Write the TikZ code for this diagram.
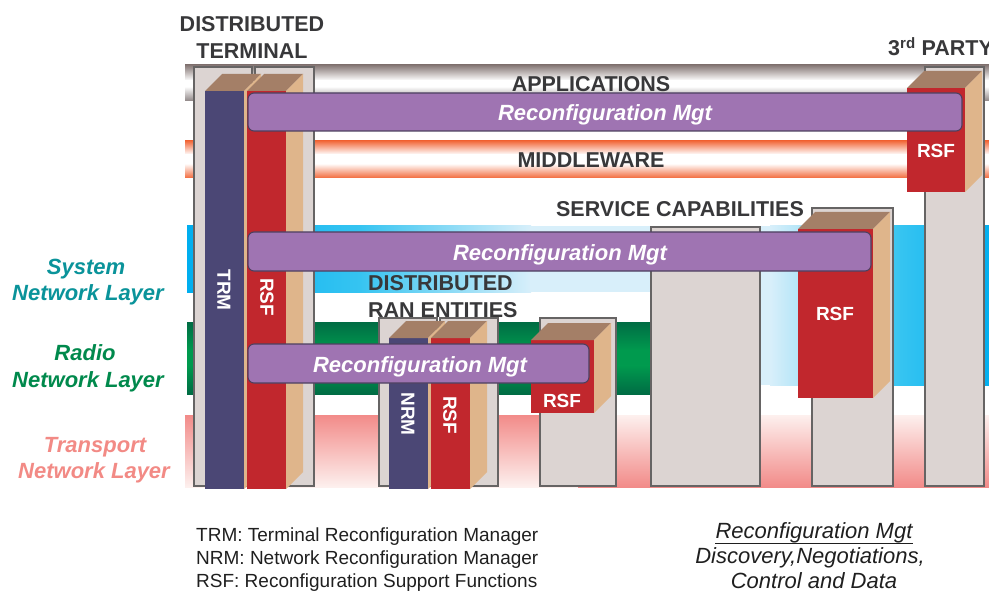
\documentclass[tikz,border=0pt]{standalone}
\usepackage{fontspec}
\setmainfont{Liberation Sans}
\usetikzlibrary{calc}

\definecolor{boxgray}{HTML}{DCD4D2}
\definecolor{boxline}{HTML}{666464}
\definecolor{trmnavy}{HTML}{4B4775}
\definecolor{rsfred}{HTML}{C1272D}
\definecolor{sidetan}{HTML}{DFB58B}
\definecolor{topbrown}{HTML}{A47F67}
\definecolor{mgtpurple}{HTML}{9F74B2}
\definecolor{mgtline}{HTML}{4D4060}
\definecolor{labeldark}{HTML}{38383A}
\definecolor{systeal}{HTML}{0A939A}
\definecolor{radiogreen}{HTML}{00894C}
\definecolor{transpink}{HTML}{F28A85}
\definecolor{appgray}{HTML}{857775}
\definecolor{appgraylow}{HTML}{8E8585}
\definecolor{mworange}{HTML}{F26A3C}
\definecolor{cyanfull}{HTML}{00AEEF}
\definecolor{cyanmid}{HTML}{36C4F1}
\definecolor{cyanpale}{HTML}{D8EFFA}
\definecolor{greendark}{HTML}{006C44}
\definecolor{greenmid}{HTML}{009A4E}
\definecolor{pinkstrong}{HTML}{F28B89}
\definecolor{pinkpale}{HTML}{FDF0EE}

% 3-D block: front face, brown top, tan side (depth 17)
\newcommand{\blockprism}[5]{%
  \fill[#5] (#1,#2) rectangle (#3,#4);
  \fill[topbrown] (#1,#2) -- (#3,#2) -- ({#3+17},{#2-17}) -- ({#1+17},{#2-17}) -- cycle;
  \fill[sidetan] (#3,#2) -- ({#3+17},{#2-17}) -- ({#3+17},{#4-17}) -- (#3,#4) -- cycle;
}

% tube-like band: edge colour fading to a centre colour and back
% #1 x-left, #2 x-right, #3 y-top, #4 y-fade-end, #5 y-fade-start, #6 y-bottom,
% #7 top edge colour, #8 centre colour, #9 bottom edge colour
\newcommand{\tubeband}[9]{%
  \shade[top color=#7, bottom color=#8] (#1,#3) rectangle (#2,{#4+0.5});
  \fill[#8] (#1,#4) rectangle (#2,#5);
  \shade[top color=#8, bottom color=#9] (#1,{#5-0.5}) rectangle (#2,#6);
}

\tikzset{
  graybox/.style={fill=boxgray, draw=boxline, line width=1.1pt},
  mgtbar/.style={fill=mgtpurple, draw=mgtline, line width=1.1pt, rounded corners=6pt},
  mgttext/.style={text=white, inner sep=0pt, anchor=base,
    font=\fontsize{22}{26}\selectfont\bfseries\itshape},
  caplabel/.style={text=labeldark, inner sep=0pt, anchor=base,
    font=\fontsize{21.5}{26}\selectfont\bfseries},
  vlabel/.style={text=white, inner sep=0pt, rotate=-90,
    font=\fontsize{19}{22}\selectfont\bfseries},
  hlabel/.style={text=white, inner sep=0pt,
    font=\fontsize{19}{22}\selectfont\bfseries},
  layerlabel/.style={inner sep=0pt, anchor=base,
    font=\fontsize{22}{26}\selectfont\bfseries\itshape},
  legendtext/.style={text=black!88, inner sep=0pt, anchor=base west,
    font=\fontsize{19}{22}\selectfont},
  notetext/.style={text=black!88, inner sep=0pt, anchor=base,
    font=\fontsize{22}{26}\selectfont\itshape}
}

\begin{document}
\begin{tikzpicture}[x=1pt,y=-1pt]
\useasboundingbox (0,0) rectangle (989,591);

% ---------- horizontal layer bands ----------
% applications
\tubeband{185}{995}{65}{80}{87}{101}{appgray}{white}{appgraylow}
% middleware
\tubeband{185}{995}{141}{154}{164}{178}{mworange}{white}{mworange}
% system network layer
\shade[left color=cyanfull, right color=cyanmid] (187,226) rectangle (361,292);
\shade[left color=cyanmid, right color=cyanpale] (360,226) rectangle (531,292);
\fill[cyanpale] (530,226) rectangle (707,292);
\fill[cyanpale] (706,226) rectangle (771,385);
\shade[left color=cyanpale, right color=cyanmid] (770,226) rectangle (901,385);
\shade[left color=cyanmid, right color=cyanfull] (900,226) rectangle (995,385);
% radio network layer
\tubeband{187}{652}{322}{350}{366}{394}{greendark}{greenmid}{greendark}
% transport network layer
\shade[top color=pinkstrong, bottom color=pinkpale] (185,415) rectangle (579,487);
\shade[top color=pinkpale, bottom color=pinkstrong] (578,415) rectangle (995,487);

% ---------- entity columns ----------
\draw[graybox] (194,67) rectangle (252,486);
\draw[graybox] (255,67) rectangle (314,486);
\draw[graybox] (379,318) rectangle (437,486);
\draw[graybox] (440,318) rectangle (498,486);
\draw[graybox] (540,318) rectangle (616,486);
\draw[graybox] (651,227) rectangle (760,486);
\draw[graybox] (812,208) rectangle (893,486);
\draw[graybox] (925,67) rectangle (984,486);

% ---------- managers and support functions ----------
\blockprism{205}{91}{244}{489}{trmnavy}
\blockprism{247}{91}{286}{489}{rsfred}
\blockprism{389}{338}{428}{489}{trmnavy}
\blockprism{431}{338}{470}{489}{rsfred}
\blockprism{531}{340}{594}{413}{rsfred}
\blockprism{798}{229}{873}{398}{rsfred}
\blockprism{907}{88}{965}{192}{rsfred}

\node[vlabel] (trm) at (224,290) {TRM};
\node[vlabel] (rsft) at (267,297) {RSF};
\node[vlabel] (nrm) at (408,414) {NRM};
\node[vlabel] (rsfr) at (450,415) {RSF};
\node[hlabel] (rsfa) at (562,401) {RSF};
\node[hlabel] (rsfb) at (835,314) {RSF};
\node[hlabel] (rsfc) at (936,151) {RSF};

% ---------- reconfiguration management bars ----------
\draw[mgtbar] (248,93) rectangle (962,131);
\draw[mgtbar] (248,232) rectangle (871,271);
\draw[mgtbar] (248,344) rectangle (589,383);
\node[mgttext] (mgtapp) at (605,121) {Reconfiguration Mgt};
\node[mgttext] (mgtsys) at (560,260) {Reconfiguration Mgt};
\node[mgttext] (mgtran) at (420,372) {Reconfiguration Mgt};

% ---------- headings ----------
\node[caplabel] (dt1) at (252,32) {DISTRIBUTED};
\node[caplabel] (dt2) at (252,59) {TERMINAL};
\node[caplabel] (apps) at (591,92) {APPLICATIONS};
\node[caplabel] (mw) at (591,168) {MIDDLEWARE};
\node[caplabel] (svc) at (680,217) {SERVICE CAPABILITIES};
\node[caplabel, anchor=base west] (ran1) at (368,290) {DISTRIBUTED};
\node[caplabel, anchor=base west] (ran2) at (368,317) {RAN ENTITIES};
\node[caplabel, anchor=base west] (third) at (888,56) {3\textsuperscript{rd} PARTY};

% ---------- layer names ----------
\node[layerlabel, text=systeal] (sys1) at (86,274) {System};
\node[layerlabel, text=systeal] (sys2) at (88,300) {Network Layer};
\node[layerlabel, text=radiogreen] (rad1) at (85,360) {Radio};
\node[layerlabel, text=radiogreen] (rad2) at (88,387) {Network Layer};
\node[layerlabel, text=transpink] (tra1) at (95,452) {Transport};
\node[layerlabel, text=transpink] (tra2) at (94,478) {Network Layer};

% ---------- legend ----------
\node[legendtext] (lg1) at (196,541) {TRM: Terminal Reconfiguration Manager};
\node[legendtext] (lg2) at (196,564.5) {NRM: Network Reconfiguration Manager};
\node[legendtext] (lg3) at (196,587) {RSF: Reconfiguration Support Functions};

\node[notetext] (nt1) at (814,538) {Reconfiguration Mgt};
\draw[black!88, line width=1pt] ($(nt1.base west)+(0,5)$) -- ($(nt1.base east)+(0,5)$);
\node[notetext] (nt2) at (810,563) {Discovery,Negotiations,};
\node[notetext] (nt3) at (814,588) {Control and Data};
\end{tikzpicture}
\end{document}
